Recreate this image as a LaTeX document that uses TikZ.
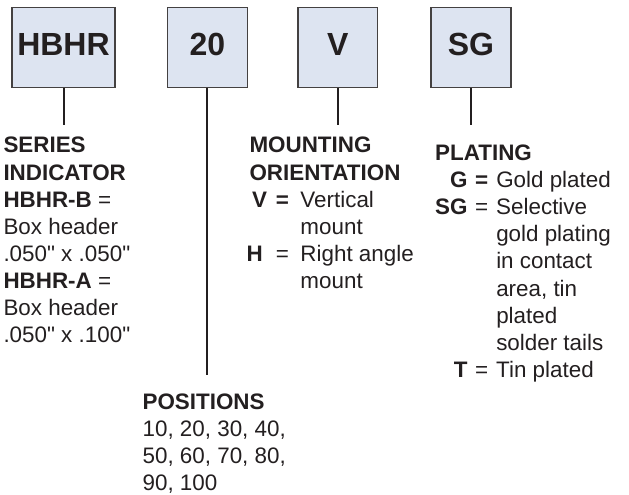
\documentclass[tikz,border=0pt]{standalone}
\usepackage{fontspec}
\setmainfont{Liberation Sans}
\usepackage{array}
\font\qfont="Liberation Sans" at 22.4pt
\newcommand\inq{{\qfont"}}
\definecolor{ink}{HTML}{231F20}
\definecolor{boxfill}{HTML}{DDE4F1}
\begin{document}
\begin{tikzpicture}[x=1pt,y=1pt,
  codebox/.style={draw=ink!85, line width=1.5pt, fill=boxfill, inner sep=0pt,
    minimum height=80pt, font=\fontsize{32}{38}\selectfont\bfseries, text=ink,
    text height=23pt, text depth=7pt},
  lead/.style={draw=ink, line width=2pt},
  txt/.style={anchor=base west, inner sep=0pt, text=ink,
    font=\fontsize{22.4}{27.1}\selectfont}]
\useasboundingbox (0,0) rectangle (629,495);
% code boxes
\node[codebox, minimum width=103pt] (b1) at (63.5,447.7) {HBHR};
\node[codebox, minimum width=80pt] (b2) at (207.3,447.7) {20};
\node[codebox, minimum width=79.6pt] (b3) at (337.7,447.7) {V};
\node[codebox, minimum width=80pt] (b4) at (470.9,447.7) {SG};
% connector ends
\coordinate (e1) at (63.5,370);
\coordinate (e2) at (207.3,120);
\coordinate (e3) at (337.9,370);
\coordinate (e4) at (471.3,370);
\draw[lead] (b1.south) -- (e1);
\draw[lead] (b2.south) -- (e2);
\draw[lead] (b3.south -| e3) -- (e3);
\draw[lead] (b4.south -| e4) -- (e4);
% series
\node[txt] (series) at (3.3,342) {\begin{tabular}[t]{@{}l@{}}
\textbf{SERIES}\\
\textbf{INDICATOR}\\
\textbf{HBHR-B} =\\
Box header\\
.050\inq{} x .050\inq\\
\textbf{HBHR-A} =\\
Box header\\
.050\inq{} x .100\inq
\end{tabular}};
% positions
\node[txt] (pos) at (142.4,85.3) {\begin{tabular}[t]{@{}l@{}}
\textbf{POSITIONS}\\
10, 20, 30, 40,\\
50, 60, 70, 80,\\
90, 100
\end{tabular}};
% mounting
\node[txt] (mount) at (246.5,342) {\begin{tabular}[t]{@{}l@{}c@{\hspace{11.5pt}}l@{}}
\multicolumn{3}{@{}l@{}}{\hspace{2.8pt}\textbf{MOUNTING}}\\
\multicolumn{3}{@{}l@{}}{\hspace{2.8pt}\textbf{ORIENTATION}}\\
\makebox[29.2pt][l]{\hspace{5.3pt}\textbf{V}} & \textbf{=} & Vertical\\
 & & mount\\
\makebox[29.2pt][l]{\textbf{H}} & = & Right angle\\
 & & mount
\end{tabular}};
% plating
\node[txt] (plat) at (435,334.4) {\begin{tabular}[t]{@{}r@{\hspace{7.6pt}}c@{\hspace{8pt}}l@{}}
\multicolumn{3}{@{}l@{}}{\textbf{PLATING}}\\
\textbf{G} & \textbf{=} & Gold plated\\
\textbf{SG} & = & Selective\\
 & & gold plating\\
 & & in contact\\
 & & area, tin\\
 & & plated\\
 & & solder tails\\
\textbf{T} & = & Tin plated
\end{tabular}};
\end{tikzpicture}
\end{document}
